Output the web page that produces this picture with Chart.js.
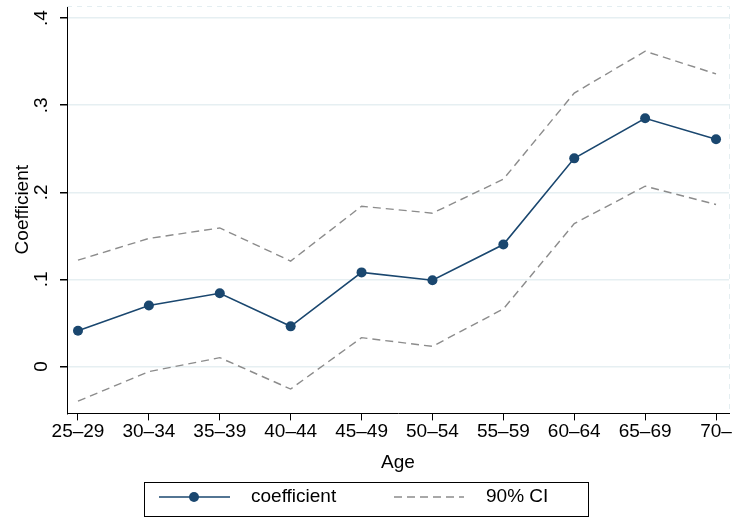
<!DOCTYPE html>
<html>
<head>
<meta charset="utf-8">
<script src="https://cdn.jsdelivr.net/npm/chart.js@4/dist/chart.umd.min.js"></script>
<style>
  html, body { margin: 0; padding: 0; background: #fff; }
  #wrap { width: 734px; height: 520px; }
</style>
</head>
<body>
<div id="wrap"><canvas id="c" width="734" height="520"></canvas></div>
<script>
// age groups and estimates
var ageGroups = ['25\u201329', '30\u201334', '35\u201339', '40\u201344', '45\u201349',
                 '50\u201354', '55\u201359', '60\u201364', '65\u201369', '70\u2013'];
var coefficient = [0.041, 0.070, 0.084, 0.046, 0.108, 0.099, 0.140, 0.239, 0.285, 0.261];
var ciUpper = [0.122, 0.147, 0.159, 0.121, 0.184, 0.176, 0.215, 0.314, 0.362, 0.336];
var ciLower = [-0.040, -0.006, 0.010, -0.026, 0.033, 0.023, 0.066, 0.164, 0.207, 0.186];
var yTicks = [0, 0.1, 0.2, 0.3, 0.4];

var navy = '#1a476f';
var gray = '#8c8c8c';
var font = "'Liberation Sans', Arial, sans-serif";
var fs = 19;

function pts(arr) {
    return arr.map(function(v, i) { return { x: i, y: v }; });
}

function fmtTick(v) {
    if (Math.abs(v) < 1e-9) return '0';
    return v.toFixed(1).replace(/^0/, '');
}

// frame (light dashed top/right) + boxed legend, Stata style
var extras = {
    id: 'extras',
    beforeDatasetsDraw: function(chart) {
        var a = chart.chartArea, ctx = chart.ctx;
        ctx.save();
        ctx.strokeStyle = '#e4eef1';
        ctx.lineWidth = 1;
        ctx.setLineDash([5, 5]);
        ctx.beginPath();
        ctx.moveTo(a.left, a.top + 0.5);
        ctx.lineTo(a.right + 0.5, a.top + 0.5);
        ctx.lineTo(a.right + 0.5, a.bottom);
        ctx.stroke();
        ctx.restore();
    },
    afterDraw: function(chart) {
        var ctx = chart.ctx;
        ctx.save();
        // legend box
        ctx.strokeStyle = '#000';
        ctx.lineWidth = 1;
        ctx.strokeRect(144.5, 482.5, 444, 34);
        var ly = 497;
        // coefficient line with marker
        ctx.strokeStyle = navy;
        ctx.lineWidth = 1.6;
        ctx.beginPath();
        ctx.moveTo(159, ly);
        ctx.lineTo(230, ly);
        ctx.stroke();
        ctx.fillStyle = navy;
        ctx.beginPath();
        ctx.arc(194, ly, 5, 0, Math.PI * 2);
        ctx.fill();
        // CI dashed line
        ctx.strokeStyle = gray;
        ctx.lineWidth = 1.4;
        ctx.setLineDash([8, 5]);
        ctx.beginPath();
        ctx.moveTo(394, ly);
        ctx.lineTo(464, ly);
        ctx.stroke();
        ctx.setLineDash([]);
        // labels
        ctx.fillStyle = '#000';
        ctx.font = fs + 'px ' + font;
        ctx.textBaseline = 'middle';
        ctx.textAlign = 'left';
        ctx.fillText('coefficient', 251, ly);
        ctx.fillText('90% CI', 486, ly);
        ctx.restore();
    }
};

var ctx = document.getElementById('c').getContext('2d');
var chart = new Chart(ctx, {
    type: 'line',
    data: {
        datasets: [{
            label: 'coefficient',
            data: pts(coefficient),
            borderColor: navy,
            backgroundColor: navy,
            borderWidth: 1.6,
            pointRadius: 5,
            pointBorderWidth: 0,
            fill: false,
            tension: 0
        }, {
            label: '90% CI',
            data: pts(ciUpper),
            borderColor: gray,
            borderWidth: 1.4,
            borderDash: [8, 5],
            pointRadius: 0,
            fill: false,
            tension: 0
        }, {
            label: '90% CI lower',
            data: pts(ciLower),
            borderColor: gray,
            borderWidth: 1.4,
            borderDash: [8, 5],
            pointRadius: 0,
            fill: false,
            tension: 0
        }]
    },
    options: {
        responsive: false,
        animation: false,
        events: [],
        layout: { padding: { top: 6, right: 5, bottom: 46, left: 11 } },
        plugins: { legend: { display: false }, tooltip: { enabled: false } },
        scales: {
            x: {
                type: 'linear',
                min: -0.155,
                max: 9.183,
                afterBuildTicks: function(s) {
                    s.ticks = ageGroups.map(function(_, i) { return { value: i }; });
                },
                afterFit: function(s) { s.paddingLeft = 0; s.paddingRight = 0; },
                ticks: {
                    color: '#000',
                    font: { family: font, size: fs },
                    padding: 0,
                    maxRotation: 0,
                    autoSkip: false,
                    callback: function(v) { return ageGroups[v]; }
                },
                grid: { drawOnChartArea: false, tickColor: '#000', tickLength: 7, tickWidth: 1 },
                border: { color: '#000', width: 1 },
                title: {
                    display: true, text: 'Age', color: '#000',
                    font: { family: font, size: fs }, padding: { top: 8, bottom: 0 }
                }
            },
            y: {
                min: -0.054,
                max: 0.414,
                afterBuildTicks: function(s) {
                    s.ticks = yTicks.map(function(v) { return { value: v }; });
                },
                afterFit: function(s) { s.paddingTop = 0; s.paddingBottom = 0; s.width = 56; },
                ticks: {
                    color: '#000',
                    font: { family: font, size: fs },
                    minRotation: 90,
                    maxRotation: 90,
                    crossAlign: 'center',
                    padding: 10,
                    callback: function(v) { return fmtTick(v); }
                },
                grid: { color: '#e6eff2', lineWidth: 1.5, tickColor: '#000', tickLength: 7 },
                border: { color: '#000', width: 1 },
                title: {
                    display: true, text: 'Coefficient', color: '#000',
                    font: { family: font, size: fs }, padding: { top: 0, bottom: 1 }
                }
            }
        }
    },
    plugins: [extras]
});
</script>
</body>
</html>
